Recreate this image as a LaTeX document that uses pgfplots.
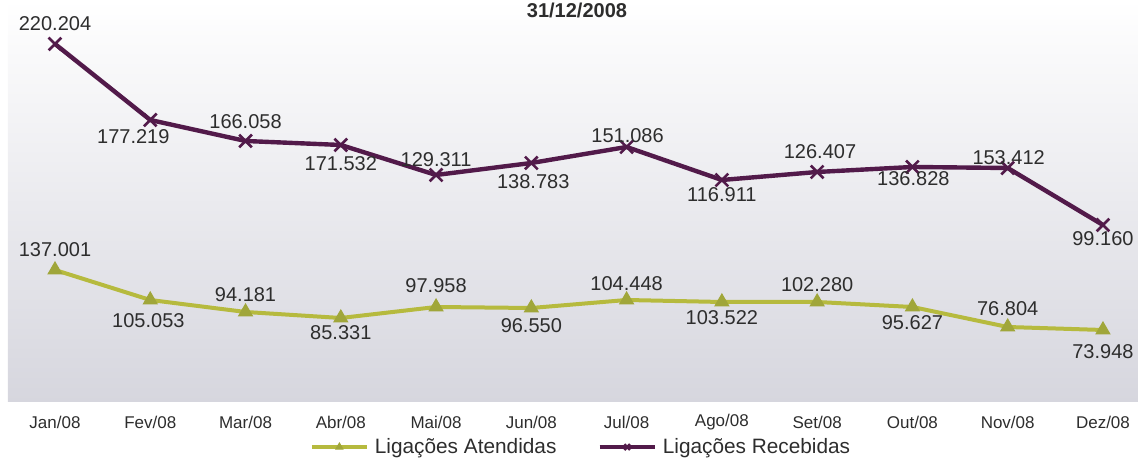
\documentclass[border=0pt]{standalone}
\usepackage{fontspec}
\setmainfont{Liberation Sans}
\usepackage{pgfplots}
\usepackage{pgfplotstable}
\pgfplotsset{compat=1.18}
\definecolor{rec}{RGB}{82,26,74}
\definecolor{ate}{RGB}{182,186,62}
\definecolor{atem}{RGB}{160,166,58}
\definecolor{lbl}{RGB}{45,45,45}
\definecolor{bggray}{RGB}{214,214,222}
% y = plotted height as drawn in the picture (chart has no value axis); label = printed value
% lx, ly = where the printed value sits
\pgfplotstableread{
px py label lx ly
0 414 220.204 0 434
1 338 177.219 0.822 321
2 317 166.058 2 336
3 313 171.532 3 294
4 283 129.311 4 298
5 295 138.783 5.02 276
6 311 151.086 6.01 322
7 278 116.911 7 263
8 286 126.407 8.03 306
9 291 136.828 9.01 279
10 290 153.412 10.01 300
11 233 99.160 11 219
}\recebidas
\pgfplotstableread{
px py label lx ly
0 188 137.001 0 208
1 158 105.053 0.98 137
2 146 94.181 2 163
3 140 85.331 3 125
4 151 97.958 4 172
5 150 96.550 5 132
6 158 104.448 6 174
7 156 103.522 7 140
8 156 102.280 8 173
9 151 95.627 9 135
10 131 76.804 10 149
11 128 73.948 11 106
}\atendidas
\pgfplotsset{
  lbls/.style={
    forget plot, draw=none, mark=none,
    point meta=explicit symbolic,
    nodes near coords,
    nodes near coords style={anchor=center, inner sep=0pt,
      font=\fontsize{10}{11}\selectfont, text=lbl},
  }
}
\begin{document}
\begin{tikzpicture}
\begin{axis}[
  scale only axis,
  width=565pt, height=201pt,
  xmin=-0.4933, xmax=11.368,
  ymin=56, ymax=458,
  axis line style={draw=none},
  major tick length=0pt,
  ytick=\empty,
  xtick={0,...,11},
  xticklabels={Jan/08,Fev/08,Mar/08,Abr/08,Mai/08,Jun/08,Jul/08,Ago/08,Set/08,Out/08,Nov/08,Dez/08},
  xticklabel style={font=\fontsize{8.5}{9}\selectfont, text=lbl, anchor=center, yshift=-10pt},
  axis background/.style={shade, top color=white, middle color=white, bottom color=bggray},
  clip=false,
  legend columns=2,
  legend style={draw=none, fill=none, at={(0.508,-0.112)}, anchor=center,
    font=\fontsize{10.4}{11}\selectfont, text=lbl, inner sep=0pt,
    /tikz/every odd column/.append style={column sep=1pt},
    /tikz/every even column/.append style={column sep=18.5pt}},
  legend image code/.code={\draw[#1, mark size=2pt, mark repeat=2, mark phase=2] plot coordinates {(0pt,0pt)(13.75pt,0pt)(27.5pt,0pt)};},
]
\addplot[ate, line width=2pt, mark=triangle*, mark size=4pt,
  mark options={fill=atem, draw=atem, line width=0.5pt}]
  table[x=px, y=py] {\atendidas};
\addlegendentry{Ligações Atendidas}
\addplot[rec, line width=2.2pt, mark=x, mark size=4.5pt,
  mark options={line width=1.3pt}]
  table[x=px, y=py] {\recebidas};
\addlegendentry{Ligações Recebidas}
\addplot[lbls] table[x=lx, y=ly, meta=label] {\atendidas};
\addplot[lbls] table[x=lx, y=ly, meta=label] {\recebidas};
\node[font=\bfseries\fontsize{10}{11}\selectfont, text=lbl, anchor=center, inner sep=0pt]
  at ([yshift=-5pt]rel axis cs:0.5035,1) {31/12/2008};
\end{axis}
\pgfresetboundingbox
\path (-4pt,-28pt) rectangle (565pt,201pt);
\end{tikzpicture}
\end{document}
